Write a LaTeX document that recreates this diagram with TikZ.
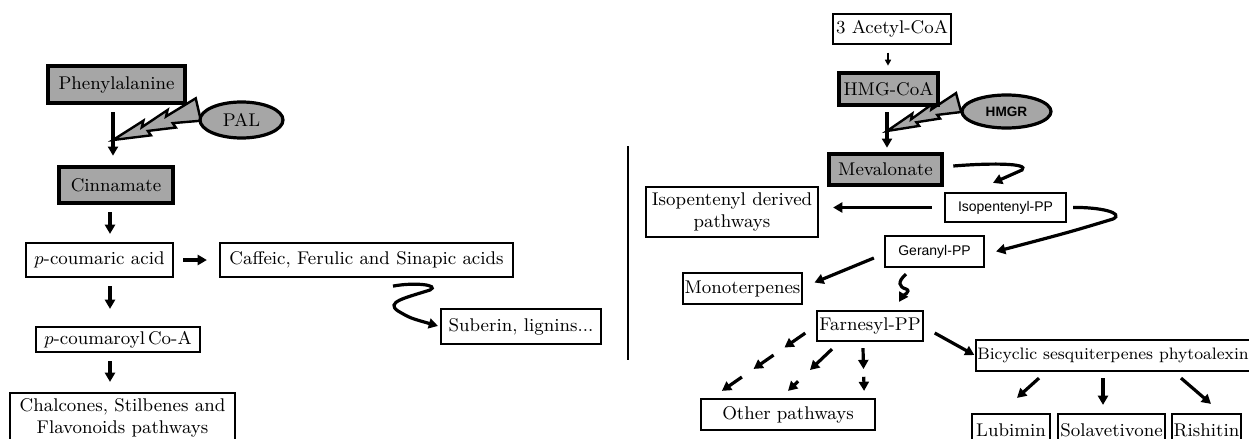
\documentclass[tikz,border=0pt]{standalone}
\usepackage{fontspec}
\newfontfamily\arialsans{Liberation Sans}
\usepackage{tikz}
\usetikzlibrary{arrows.meta, calc, shapes.geometric}
\definecolor{kelabu}{RGB}{166,166,166}

\begin{document}
\begin{tikzpicture}[
    x=0.5pt, y=-0.5pt,
    font=\fontsize{9.2}{10.8}\selectfont,
    senyawa/.style={draw, line width=1.1pt, inner sep=1pt, align=center},
    utama/.style={senyawa, fill=kelabu, line width=2.3pt},
    enzim/.style={ellipse, draw, fill=kelabu, line width=1.6pt, inner sep=0pt},
    hurufsans/.style={font=\fontsize{7}{8}\selectfont\arialsans},
    ukuran/.style 2 args={minimum width=#1*0.5pt, minimum height=#2*0.5pt},
    panah/.style={-{Triangle[length=4.6pt, width=5pt]}, line width=1.6pt},
    panahtipis/.style={-{Triangle[length=3pt, width=3pt]}, line width=0.8pt},
    petir/.pic={\draw[line width=1.2pt, fill=kelabu, line join=miter]
      (0,0) -- (34,-12) -- (31,-6) -- (60,-17) -- (57,-11) -- (90,-22)
      -- (90,1) -- (62,-3) -- (64,2) -- (36,-1) -- (38,4) -- cycle;}
  ]
    \useasboundingbox (0,0) rectangle (1249,439);

    % jalur fenilpropanoid
    \pic[rotate=13] at (113,140) {petir};
    \node[utama, ukuran={137}{37}] (fenil) at (116.5,84.5) {Phenylalanine};
    \node[enzim, ukuran={83}{36}] (pal) at (241.5,120) {PAL};
    \node[utama, ukuran={114}{36}] (sinamat) at (116,185) {Cinnamate};
    \node[senyawa, ukuran={147}{34}] (kumarat) at (99.5,260) {$p$-coumaric acid};
    \node[senyawa, ukuran={293}{34}] (kafeat) at (366.5,260) {Caffeic, Ferulic and Sinapic acids};
    \node[senyawa, ukuran={164}{25}] (kumaroil) at (118,339.5) {$p$-coumaroyl\,Co-A};
    \node[senyawa, ukuran={225}{50}] (kalkon) at (122.5,418) {Chalcones, Stilbenes and\\Flavonoids pathways};
    \node[senyawa, ukuran={160}{35}] (suberin) at (521,326.5) {Suberin, lignins...};

    \draw[panah, shorten <=3.5pt, shorten >=4.5pt] ([xshift=-1.75pt]fenil.south) -- ([xshift=-1.75pt]fenil.south |- sinamat.north);
    \draw[panah, shorten <=3.5pt, shorten >=4pt] ([xshift=-3pt]sinamat.south) -- ([xshift=-3pt]sinamat.south |- kumarat.north);
    \draw[panah, shorten <=4.5pt, shorten >=6pt] (kumarat) -- (kafeat);
    \draw[panah, shorten <=4pt, shorten >=8.5pt] ([xshift=5.25pt]kumarat.south) -- ([xshift=5.25pt]kumarat.south |- kumaroil.north);
    \draw[panah, shorten <=4pt, shorten >=5pt] ([xshift=-4pt]kumaroil.south) -- ([xshift=-4pt]kumaroil.south |- kalkon.north);
    \draw[panah, shorten >=1pt] ([shift={(26.5,8)}]kafeat.south) .. controls (415,282) and (440,285) .. (430,290)
      .. controls (405,298) and (385,302) .. (398,311) .. controls (410,318) .. (suberin.west);

    \draw[line width=1pt] (628,146) -- (628,360);

    % jalur mevalonat
    \pic[rotate=15, scale=0.85] at (887,131) {petir};
    \node[senyawa, line width=0.7pt, ukuran={118}{30}] (asetil) at (892,29) {3 Acetyl-CoA};
    \node[utama, ukuran={99}{32}] (hmg) at (888.5,89) {HMG-CoA};
    \node[enzim, ukuran={89}{33}, font=\fontsize{6.8}{8}\selectfont\arialsans\bfseries] (hmgr) at (1006.5,111.5) {HMGR};
    \node[utama, ukuran={113}{31}] (meva) at (885.5,169.5) {Mevalonate};
    \node[senyawa, ukuran={172}{50}] (isoder) at (732,212) {Isopentenyl derived\\pathways};
    \node[senyawa, hurufsans, ukuran={121}{29}] (ipp) at (1005.5,207.5) {Isopentenyl-PP};
    \node[senyawa, hurufsans, ukuran={99}{31}] (geranil) at (934.5,251.5) {Geranyl-PP};
    \node[senyawa, ukuran={113}{31}] (mono) at (742.5,288.5) {Monoterpenes};
    \node[senyawa, ukuran={98}{30}] (farnesil) at (870,326) {Farnesyl-PP};
    \node[senyawa, ukuran={174}{31}] (lain) at (788,414.5) {Other pathways};
    \node[senyawa, ukuran={266}{31}, inner sep=0.5pt, font=\fontsize{8.3}{10}\selectfont] (bisiklik) at (1113,355.5) {Bicyclic sesquiterpenes phytoalexin};
    \node[senyawa, ukuran={78}{32}] (lubimin) at (1011,430) {Lubimin};
    \node[senyawa, ukuran={103}{32}] (solave) at (1111.5,430) {Solavetivone};
    \node[senyawa, ukuran={67}{32}] (rishitin) at (1206.5,430) {Rishitin};

    \draw[panahtipis, shorten <=4pt, shorten >=2.5pt] ([xshift=-2pt]asetil.south) -- ([xshift=-2pt]asetil.south |- hmg.north);
    \draw[panah, shorten <=2.5pt, shorten >=2pt] ([xshift=-0.75pt]hmg.south) -- ([xshift=-0.75pt]hmg.south |- meva.north);
    \draw[panah] ([shift={(9,-3.5)}]meva.east) .. controls (990,163) and (1030,163) .. (1022,170) -- ([shift={(-12.5,-9)}]ipp.north);
    \draw[panah, shorten <=6pt, shorten >=7pt] (ipp.west) -- (ipp.west -| isoder.east);
    \draw[panah] ([xshift=3pt]ipp.east) .. controls (1100,207) and (1125,213) .. (1113,219)
      .. controls (1070,232) .. ([xshift=5.5pt]geranil.east);
    \draw[panah] ([shift={(-10,6.5)}]geranil.west) -- ([shift={(11,-6)}]mono.east);
    \draw[panah] ([shift={(-28.5,6)}]geranil.south) .. controls (897,282) and (899,287) .. (906,289)
      .. controls (912,291) and (902,297) .. ([shift={(29,-8)}]farnesil.north);

    \coordinate (a1) at ([shift={(-11,-9)}]farnesil.south west);
    \coordinate (b1) at ([shift={(22,-7)}]lain.north west);
    \coordinate (a2) at ([shift={(-38,7)}]farnesil.south);
    \coordinate (b2) at ([shift={(0,-7)}]lain.north);
    \coordinate (a3) at ([shift={(-7,6)}]farnesil.south);
    \coordinate (b3) at ([shift={(-12,-7)}]lain.north east);
    \foreach \p/\q in {0/0.25, 0.38/0.62, 0.76/1}
      \draw[panah] ($(a1)!\p!(b1)$) -- ($(a1)!\q!(b1)$);
    \foreach \p/\q in {0/0.5, 0.77/1}
      \draw[panah] ($(a2)!\p!(b2)$) -- ($(a2)!\q!(b2)$);
    \foreach \p/\q in {0/0.49, 0.67/1}
      \draw[panah] ($(a3)!\p!(b3)$) -- ($(a3)!\q!(b3)$);

    \draw[panah, shorten >=0.5pt] ([shift={(11,7)}]farnesil.east) -- (bisiklik.west);
    \draw[panah] ([shift={(-74,6)}]bisiklik.south) -- ([shift={(6,-15)}]lubimin.north);
    \draw[panah] ([shift={(-10,6)}]bisiklik.south) -- ([shift={(-8.5,-8)}]solave.north);
    \draw[panah] ([shift={(68,6)}]bisiklik.south) -- ([shift={(4.5,-9)}]rishitin.north);
  \end{tikzpicture}
\end{document}
